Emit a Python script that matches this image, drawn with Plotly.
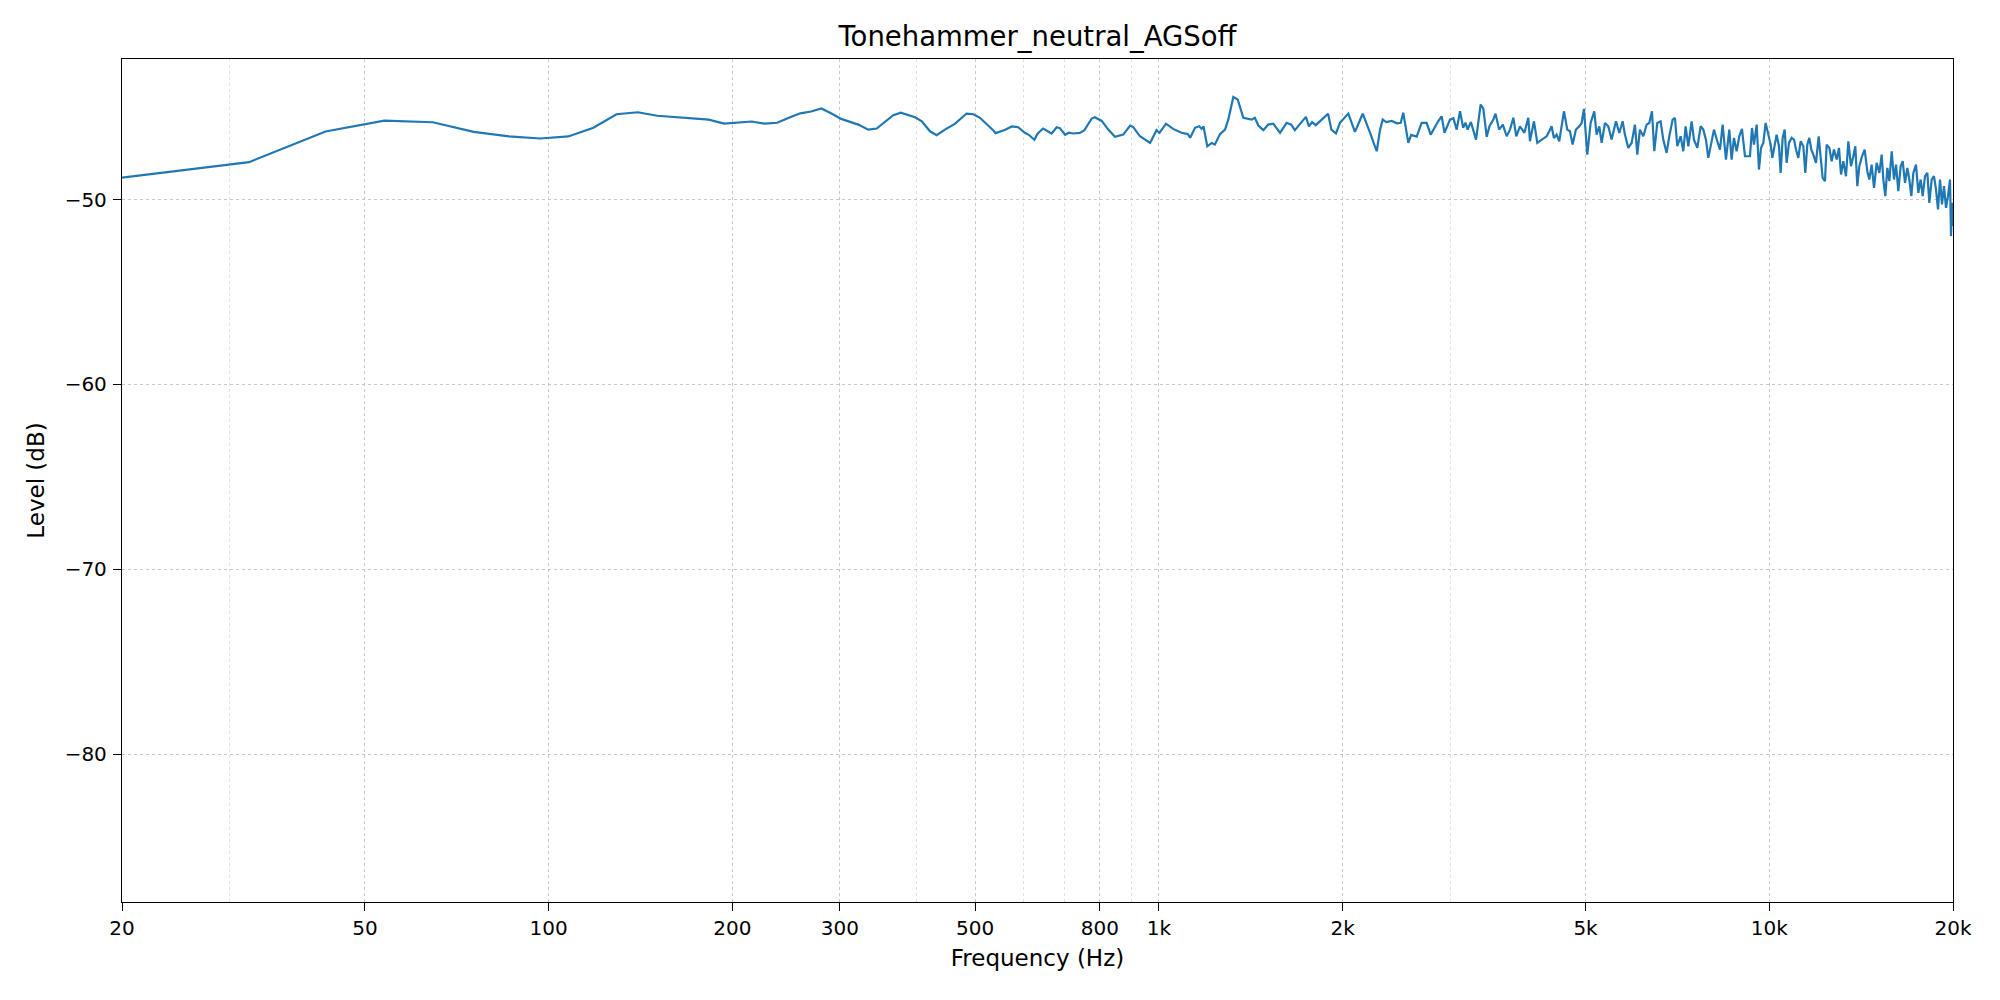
import plotly.graph_objects as go

title_text = "Tonehammer_neutral_AGSoff"
x_label = "Frequency (Hz)"
y_label = "Level (dB)"

x_tick_vals = [20, 50, 100, 200, 300, 500, 800, 1000, 2000, 5000, 10000, 20000]
x_tick_text = ["20", "50", "100", "200", "300", "500", "800", "1k", "2k", "5k", "10k", "20k"]
x_minor_vals = [30, 400, 600, 700, 900, 3000]
y_tick_vals = [-80, -70, -60, -50]
y_tick_text = ["\u221280", "\u221270", "\u221260", "\u221250"]

freq_hz = [
    10.8, 21.5, 32.3, 43.1, 53.8, 64.6, 75.4, 86.1, 96.9, 107.7,
    118.4, 129.2, 140.0, 150.7, 161.5, 172.3, 183.0, 193.8, 204.6, 215.3,
    226.1, 236.9, 247.6, 258.4, 269.2, 279.9, 290.7, 301.5, 321.7, 334,
    344.8, 367, 377.5, 398.5, 408.7, 421.6, 432.3, 446, 463, 484,
    496.6, 509, 535, 540, 560, 574, 588, 603, 612, 625,
    633, 646, 667, 680, 688, 702, 712, 724, 742, 755,
    776, 785, 806, 826, 847, 874, 897, 907, 931, 967,
    991, 1002, 1027, 1055, 1089, 1115, 1125, 1146, 1164, 1175,
    1183, 1200, 1220, 1235, 1259, 1283, 1299, 1324, 1346, 1375,
    1419, 1436, 1455, 1483, 1510, 1539, 1579, 1619, 1647, 1670,
    1703, 1741, 1761, 1782, 1807, 1858, 1893, 1917, 1950, 1980,
    2043, 2095, 2157, 2218, 2274, 2303, 2326, 2357, 2406, 2456,
    2490, 2514, 2562, 2590, 2644, 2694, 2745, 2788, 2832, 2867,
    2905, 2937, 2998, 3037, 3075, 3114, 3151, 3180, 3204, 3244,
    3308, 3366, 3400, 3444, 3480, 3531, 3560, 3609, 3660, 3713,
    3760, 3808, 3850, 3904, 3970, 4029,
    4054, 4116, 4168, 4236, 4317, 4361, 4399, 4438, 4483, 4528,
    4568, 4609, 4667, 4714, 4762, 4822, 4883, 4927, 4970, 5033,
    5097, 5168, 5213, 5266, 5313, 5380, 5448, 5517, 5608, 5679,
    5751, 5801, 5875, 5950, 6024, 6078, 6139, 6217, 6296, 6359,
    6424, 6481, 6554, 6637, 6704, 6789, 6858, 6945, 7006, 7068,
    7157, 7230, 7294, 7368, 7461, 7527, 7622, 7719, 7797, 7875,
    7945, 8046, 8117, 8220, 8303, 8387, 8493, 8600, 8676, 8753,
    8841, 8931, 9021, 9124,
    9298, 9369, 9439, 9535, 9619, 9693, 9778, 9864, 9964, 10053,
    10116, 10192, 10282, 10373, 10439, 10518, 10598, 10678, 10772, 10881,
    10978, 11062, 11158, 11257, 11371, 11457, 11543, 11631, 11719, 11808,
    11927, 12048, 12139, 12231, 12339, 12418, 12543, 12654, 12765, 12895,
    13008, 13108, 13223, 13357, 13475, 13611, 13732, 13835, 13940, 14046,
    14189, 14331, 14476, 14585, 14715, 14846, 14995, 15147, 15281, 15378,
    15494, 15612, 15731, 15869, 16010, 16131, 16273, 16416, 16541, 16687,
    16835, 16962, 17090, 17221, 17394, 17548, 17702, 17837, 17996, 18155,
    18291, 18453, 18616, 18759, 18900, 19044, 19187, 19332, 19479, 19625,
    19775, 19851, 19924, 20000,
]

level_db = [
    -49.9, -48.7, -47.98, -46.32, -45.73, -45.82, -46.34, -46.59, -46.70, -46.59,
    -46.12, -45.39, -45.28, -45.47, -45.55, -45.62, -45.68, -45.89, -45.84, -45.78,
    -45.90, -45.85, -45.58, -45.34, -45.24, -45.08, -45.35, -45.64, -45.95, -46.22,
    -46.16, -45.44, -45.30, -45.55, -45.77, -46.31, -46.52, -46.22, -45.91, -45.35,
    -45.39, -45.58, -46.25, -46.41, -46.23, -46.05, -46.09, -46.39, -46.50, -46.77,
    -46.43, -46.16, -46.43, -46.09, -46.14, -46.50, -46.39, -46.43, -46.40, -46.25,
    -45.62, -45.55, -45.75, -46.22, -46.61, -46.49, -46.00, -46.07, -46.58, -46.94,
    -46.25, -46.40, -45.90, -46.18, -46.39, -46.46, -46.66, -46.12, -46.04, -46.18,
    -46.04, -47.12, -46.94, -47.03, -46.46, -46.22, -45.68, -44.45, -44.59, -45.58,
    -45.68, -45.58, -46.00, -46.25, -45.95, -45.90, -46.39, -45.85, -45.95, -46.25,
    -45.91, -45.53, -46.04, -45.81, -45.98, -45.64, -45.36, -46.22, -46.43, -45.85,
    -45.35, -46.34, -45.36, -46.39, -47.39, -46.22, -45.68, -45.81, -45.75, -45.88,
    -45.85, -45.31, -46.94, -46.51, -46.60, -45.85, -45.85, -46.49, -46.04, -45.77,
    -45.50, -46.39, -45.68, -45.60, -46.22, -45.23, -46.12, -45.85, -46.22, -45.81,
    -46.76, -44.86, -45.09, -46.61, -46.04, -45.68, -45.36, -46.22, -45.95, -46.58,
    -46.22, -45.58, -46.58, -46.04, -46.39, -45.58,
    -46.85, -45.77, -46.94, -46.76, -46.58, -46.31, -46.04, -46.67, -46.49, -46.85,
    -46.04, -45.23, -46.22, -46.31, -47.03, -46.22, -46.04, -45.86, -45.10, -47.57,
    -45.86, -45.23, -46.49, -46.04, -46.94, -45.86, -46.04, -46.76, -45.77, -46.40,
    -45.77, -46.49, -47.21, -46.94, -45.95, -47.57, -46.22, -46.58, -45.95, -45.86,
    -45.23, -47.39, -45.86, -45.77, -46.76, -47.48, -46.58, -45.68, -45.59, -47.12,
    -46.58, -47.39, -46.04, -47.12, -45.77, -46.76, -47.21, -46.04, -46.22, -46.76,
    -47.75, -46.76, -46.22, -46.85, -47.30, -45.95, -47.84, -46.22, -47.84, -46.67,
    -47.39, -46.58, -46.18, -47.66,
    -47.66, -46.13, -47.03, -45.95, -48.38, -47.21, -46.94, -45.86, -46.58, -47.03,
    -47.75, -47.21, -46.49, -47.12, -48.56, -46.67, -46.22, -48.02, -46.94, -46.67,
    -46.76, -47.30, -47.75, -46.85, -47.12, -48.56, -47.03, -46.67, -47.30, -47.57,
    -48.02, -46.58, -47.84, -48.83, -49.01, -47.03, -47.21, -47.93, -47.30, -47.84,
    -47.21, -48.65, -47.93, -48.74, -46.85, -48.20, -47.66, -47.12, -49.28, -48.20,
    -47.66, -47.30, -48.47, -48.92, -48.11, -49.37, -48.02, -48.56, -47.57, -48.92,
    -49.82, -48.29, -49.01, -47.39, -48.92, -48.11, -49.55, -48.20, -47.93, -49.10,
    -48.29, -48.92, -49.82, -48.56, -48.11, -49.64, -48.92, -49.82, -48.74, -48.56,
    -50.18, -48.92, -48.74, -49.46, -50.54, -48.92, -50.27, -49.28, -50.45, -49.82,
    -48.92, -51.98, -50.18, -51.44,
]

font_family = "DejaVu Sans"

fig = go.Figure()
fig.add_trace(go.Scatter(
    x=freq_hz, y=level_db, mode="lines",
    line=dict(color="#1f77b4", width=2.2),
    showlegend=False, hoverinfo="skip",
))

fig.update_layout(
    width=2000, height=1000,
    margin=dict(l=114, r=55, t=51, b=106),
    paper_bgcolor="white", plot_bgcolor="white",
    font=dict(family=font_family, size=20, color="black"),
    title=dict(text=title_text, x=0.5, xref="paper", xanchor="center",
               y=1 - 28 / 1000, yref="container", yanchor="middle",
               font=dict(family=font_family, size=27.5, color="black")),
    showlegend=False,
)

fig.update_xaxes(
    type="log", range=[1.30103, 4.30103],
    tickvals=x_tick_vals, ticktext=x_tick_text,
    ticks="outside", ticklen=8, tickwidth=1.3, tickcolor="black",
    ticklabelstandoff=0,
    showline=True, linecolor="black", linewidth=1.3, mirror=True,
    showgrid=True, gridcolor="#c8c8c8", gridwidth=1, griddash="dot",
    zeroline=False,
    tickfont=dict(family=font_family, size=20, color="black"),
    title=dict(text=x_label, standoff=10,
               font=dict(family=font_family, size=23, color="black")),
    minor=dict(tickvals=x_minor_vals, showgrid=True, gridcolor="#e2e2e2",
               gridwidth=1, griddash="dot", ticks=""),
)

fig.update_yaxes(
    range=[-88.0, -42.4],
    tickvals=y_tick_vals, ticktext=y_tick_text,
    ticks="outside", ticklen=8, tickwidth=1.3, tickcolor="black",
    ticklabelstandoff=2,
    showline=True, linecolor="black", linewidth=1.3, mirror=True,
    showgrid=True, gridcolor="#c8c8c8", gridwidth=1, griddash="dot",
    zeroline=False,
    tickfont=dict(family=font_family, size=20, color="black"),
    title=dict(text=y_label, standoff=13,
               font=dict(family=font_family, size=23, color="black")),
)

fig.write_html("out.html")
